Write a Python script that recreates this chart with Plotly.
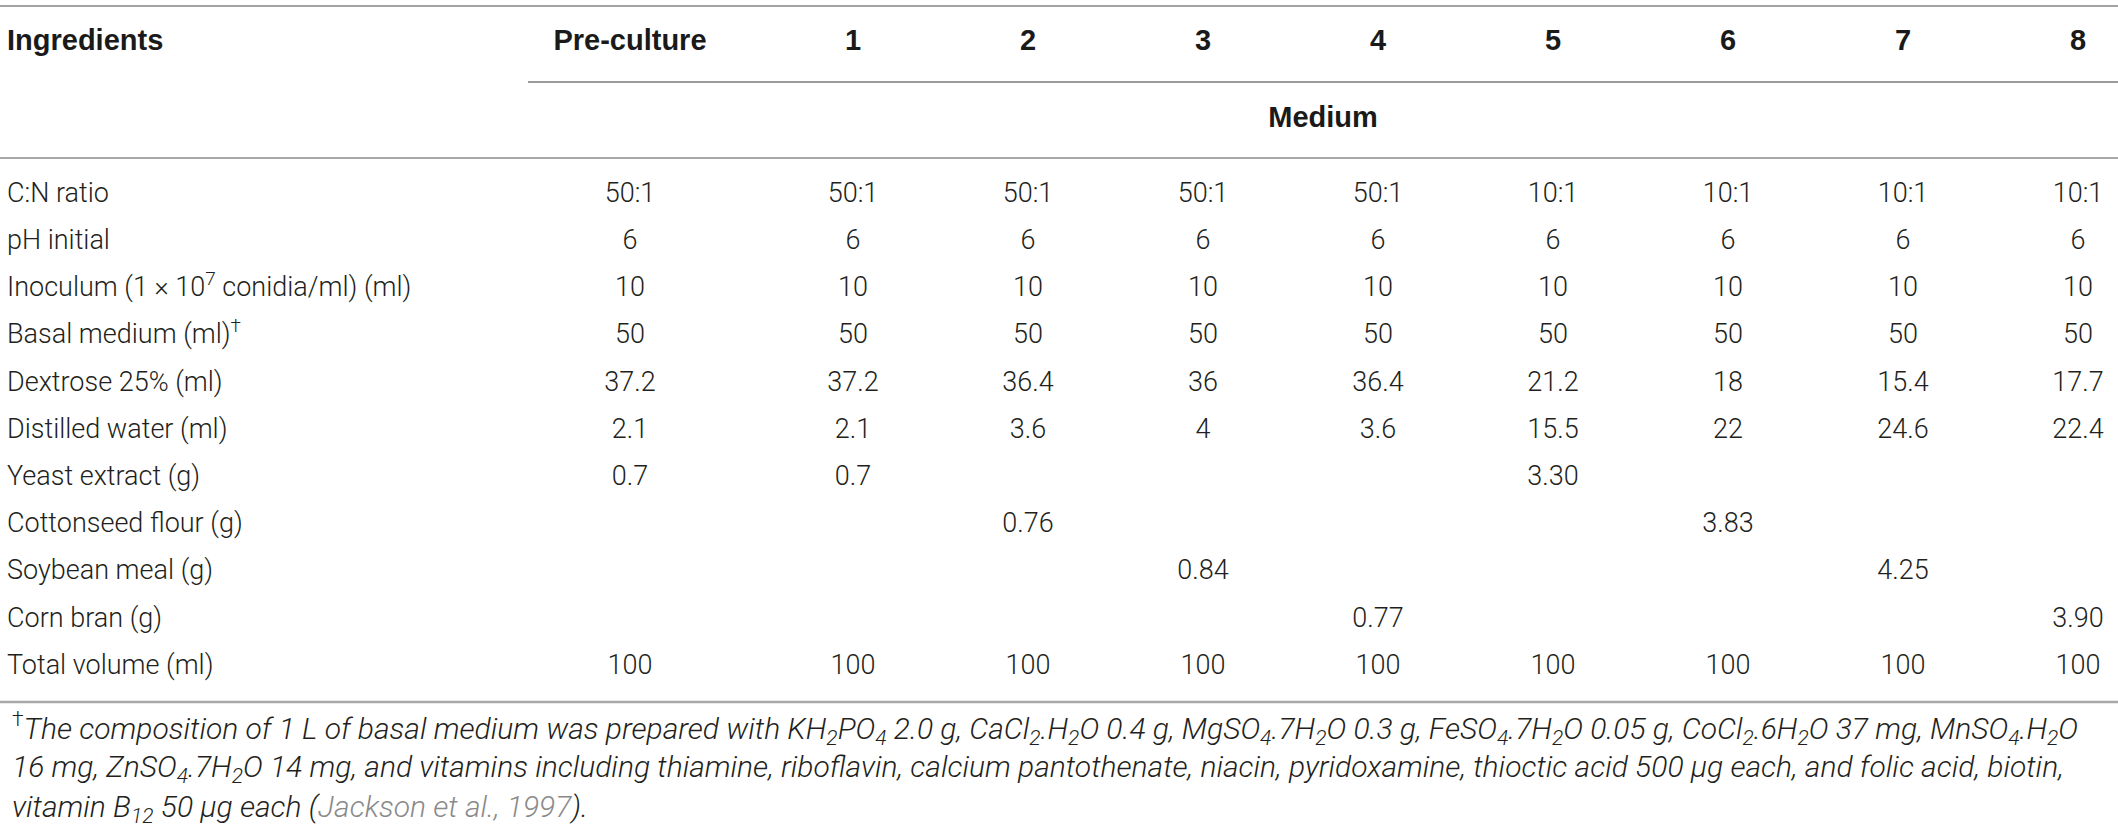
import plotly.graph_objects as go

#------------------------------------------------------------------------------#
#     Table content                                                            #
#------------------------------------------------------------------------------#
columns = ['Pre-culture', '1', '2', '3', '4', '5', '6', '7', '8']

ingredients = [
    'C:N ratio',
    'pH initial',
    'Inoculum (1 × 10<sup>7</sup> conidia/ml) (ml)',
    'Basal medium (ml)<sup>†</sup>',
    'Dextrose 25% (ml)',
    'Distilled water (ml)',
    'Yeast extract (g)',
    'Cottonseed flour (g)',
    'Soybean meal (g)',
    'Corn bran (g)',
    'Total volume (ml)',
]

cn_ratio = ['50:1', '50:1', '50:1', '50:1', '50:1', '10:1', '10:1', '10:1', '10:1']
ph_initial = ['6', '6', '6', '6', '6', '6', '6', '6', '6']
inoculum = ['10', '10', '10', '10', '10', '10', '10', '10', '10']
basal_medium = ['50', '50', '50', '50', '50', '50', '50', '50', '50']
dextrose = ['37.2', '37.2', '36.4', '36', '36.4', '21.2', '18', '15.4', '17.7']
distilled_water = ['2.1', '2.1', '3.6', '4', '3.6', '15.5', '22', '24.6', '22.4']
yeast_extract = ['0.7', '0.7', '', '', '', '3.30', '', '', '']
cottonseed_flour = ['', '', '0.76', '', '', '', '3.83', '', '']
soybean_meal = ['', '', '', '0.84', '', '', '', '4.25', '']
corn_bran = ['', '', '', '', '0.77', '', '', '', '3.90']
total_volume = ['100', '100', '100', '100', '100', '100', '100', '100', '100']

rows = [cn_ratio, ph_initial, inoculum, basal_medium, dextrose, distilled_water,
        yeast_extract, cottonseed_flour, soybean_meal, corn_bran, total_volume]

footnote_lines = [
    '<sup>†</sup><i>The composition of 1 L of basal medium was prepared with '
    'KH<sub>2</sub>PO<sub>4</sub> 2.0 g, CaCl<sub>2</sub>.H<sub>2</sub>O 0.4 g, '
    'MgSO<sub>4</sub>.7H<sub>2</sub>O 0.3 g, FeSO<sub>4</sub>.7H<sub>2</sub>O 0.05 g, '
    'CoCl<sub>2</sub>.6H<sub>2</sub>O 37 mg, MnSO<sub>4</sub>.H<sub>2</sub>O</i>',
    '<i>16 mg, ZnSO<sub>4</sub>.7H<sub>2</sub>O 14 mg, and vitamins including thiamine, '
    'riboflavin, calcium pantothenate, niacin, pyridoxamine, thioctic acid 500 μg each, '
    'and folic acid, biotin,</i>',
    '<i>vitamin B<sub>12</sub> 50 μg each (<span style="color:#8a8a8a">Jackson et al., '
    '1997</span>).</i>',
]

#------------------------------------------------------------------------------#
#     Layout grid (pixels)                                                     #
#------------------------------------------------------------------------------#
W, H = 2118, 832
label_x = 7
col_x = [630] + [853 + 175 * k for k in range(8)]
header_y = 43
medium_y = 120
first_row_y = 195
row_step = 47.2
row_y = [first_row_y + row_step * i for i in range(len(ingredients))]
foot_y = [728, 768, 808]

TXT = '#231f20'
body_font = dict(family='Roboto', size=27, color=TXT, weight=300)
bold_font = dict(family='Liberation Sans', size=29, color='#1a1a1a', weight=700)

fig = go.Figure()

# header row
fig.add_trace(go.Scatter(
    x=[label_x], y=[header_y], text=['Ingredients'], mode='text',
    textposition='middle right', textfont=bold_font, hoverinfo='skip'))
fig.add_trace(go.Scatter(
    x=col_x, y=[header_y] * len(columns), text=columns, mode='text',
    textposition='middle center', textfont=bold_font, hoverinfo='skip'))
fig.add_trace(go.Scatter(
    x=[(col_x[0] - 102 + W) / 2], y=[medium_y], text=['Medium'], mode='text',
    textposition='middle center', textfont=bold_font, hoverinfo='skip'))

# row labels
fig.add_trace(go.Scatter(
    x=[label_x] * len(ingredients), y=row_y, text=ingredients, mode='text',
    textposition='middle right', textfont=body_font, hoverinfo='skip'))

# values, one trace per column (blank cells are skipped)
for j, name in enumerate(columns):
    cells = [(y, r[j]) for y, r in zip(row_y, rows) if r[j]]
    fig.add_trace(go.Scatter(
        x=[col_x[j]] * len(cells), y=[c[0] for c in cells],
        text=[c[1] for c in cells],
        mode='text', textposition='middle center', textfont=body_font,
        hoverinfo='skip', name=name))

# horizontal rules
rules = [
    dict(x0=0, x1=W, y=6, color='#a3a3a3', width=2),
    dict(x0=col_x[0] - 102, x1=W, y=82, color='#7a7a7a', width=1.5),
    dict(x0=0, x1=W, y=158, color='#8c8c8c', width=1.5),
    dict(x0=0, x1=W, y=702, color='#a8a8a8', width=2.5),
]
for r in rules:
    fig.add_shape(type='line', xref='x', yref='y', x0=r['x0'], x1=r['x1'],
                  y0=r['y'], y1=r['y'], line=dict(color=r['color'], width=r['width']))

# footnote
for txt, y in zip(footnote_lines, foot_y):
    fig.add_annotation(x=10, y=y, xref='x', yref='y', text=txt, showarrow=False,
                       xanchor='left', yanchor='middle', align='left',
                       font=dict(family='Roboto', size=30, color=TXT, weight=300))

fig.update_xaxes(range=[0, W], visible=False, fixedrange=True)
fig.update_yaxes(range=[H, 0], visible=False, fixedrange=True)
fig.update_layout(
    width=W, height=H, autosize=False,
    margin=dict(l=0, r=0, t=0, b=0),
    showlegend=False,
    plot_bgcolor='white', paper_bgcolor='white',
)

fig.write_html('out.html', config={'displayModeBar': False},
               post_script="document.body.style.margin='0';")
